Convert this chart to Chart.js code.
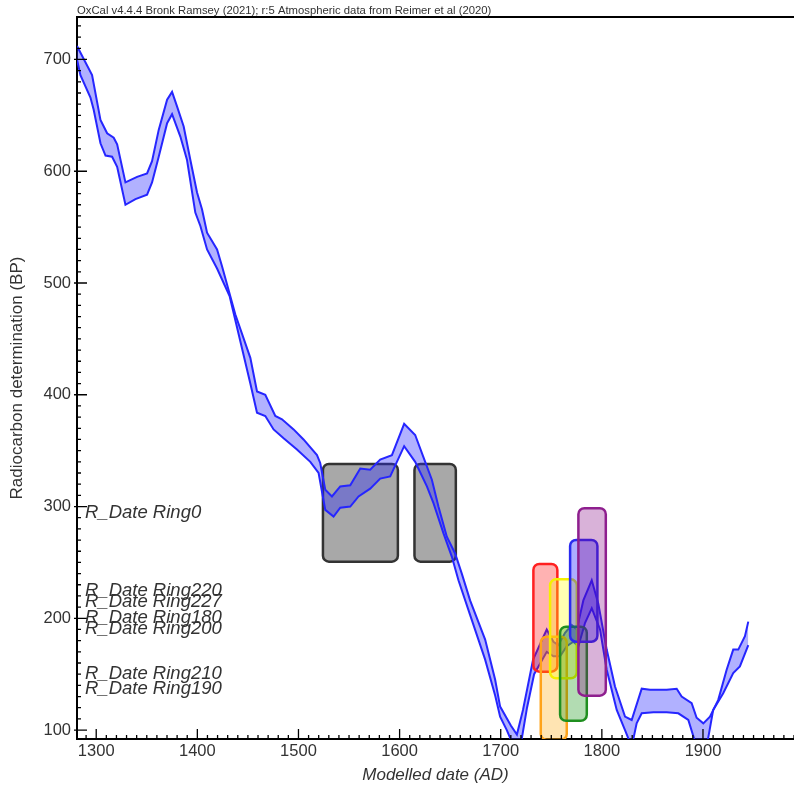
<!DOCTYPE html>
<html>
<head>
<meta charset="utf-8">
<script src="https://cdn.jsdelivr.net/npm/chart.js@4.4.0/dist/chart.umd.min.js"></script>
<style>
  html, body { margin: 0; padding: 0; background: #fff; overflow: hidden; }
  #wrap { width: 794px; height: 786px; position: relative; }
</style>
</head>
<body>
<div id="wrap"><canvas id="myChart"></canvas></div>
<script>
// Curva de calibración: borde superior e inferior (año AD, BP)
var upperYears = [1281, 1295.9, 1304.2, 1310.8, 1317.3, 1320.7, 1328.9, 1340.4, 1350.3, 1355.2, 1361.8, 1370.1, 1375, 1379.9, 1386.5, 1393.1, 1399.7, 1404.6, 1409.6, 1419.5, 1424.4, 1437.5, 1452.4, 1459, 1467.2, 1477.1, 1483.7, 1495.2, 1505, 1518.3, 1521.5, 1526.5, 1533.1, 1541.3, 1551.2, 1561.1, 1570.9, 1580.8, 1592.4, 1604.5, 1615.4, 1625.3, 1631.9, 1638.4, 1646.7, 1654.9, 1661.5, 1669.7, 1684.6, 1694.5, 1699.4, 1710, 1716, 1722, 1732, 1745.5, 1752.1, 1757, 1763.6, 1770.2, 1775.2, 1781.7, 1790, 1796.5, 1804.8, 1813, 1822.9, 1829.5, 1839.4, 1847.6, 1855.8, 1864.1, 1874, 1878.9, 1888.8, 1893.7, 1900.3, 1906.9, 1915.1, 1923.4, 1929.9, 1934.9, 1941.5, 1944.8];
var upperBP = [712, 686, 646, 634, 630, 624, 590, 595, 598, 609, 637, 664, 671, 658, 640, 610, 581, 566, 545, 530, 515, 472, 433, 403, 400, 381, 378, 369, 360, 346, 339, 315, 309, 318, 319, 334, 333, 342, 346, 374, 364, 340, 324, 300, 273, 258, 240, 216, 181, 145, 121, 104, 96, 118, 163, 190, 179, 176, 187, 194, 190, 216, 234, 213, 172, 139, 112, 109, 137, 136, 136, 136, 137, 130, 124, 111, 106, 112, 127, 154, 172, 172, 184, 197];
var lowerYears = [1281, 1284.4, 1294.3, 1297.5, 1304.2, 1309.2, 1315.7, 1320.7, 1328.9, 1338.8, 1350.3, 1355.2, 1361.8, 1370.1, 1375, 1383.2, 1389.8, 1398, 1403, 1409.6, 1419.5, 1432, 1452.4, 1459, 1467.2, 1475.4, 1485.3, 1498.5, 1511.7, 1519.9, 1526.5, 1534.7, 1541.3, 1551.2, 1559.4, 1570.9, 1580.8, 1590.7, 1604.5, 1615.4, 1627, 1633.5, 1643.4, 1651.7, 1658.2, 1669.7, 1684.6, 1694.5, 1699.4, 1706, 1713, 1720, 1726, 1733, 1745.5, 1752.1, 1758.7, 1765.3, 1771.8, 1776.8, 1783.4, 1790, 1798.2, 1804.8, 1814.7, 1822.9, 1829.5, 1834.4, 1839.4, 1850.9, 1864.1, 1875.6, 1885.5, 1893.7, 1903.6, 1910.1, 1920, 1929.9, 1936.5, 1944.8];
var lowerBP = [700, 686, 666, 655, 625, 614, 613, 604, 570, 575, 579, 590, 613, 643, 651, 631, 610, 563, 551, 530, 513, 488, 410, 384, 381, 369, 361, 351, 340, 330, 297, 291, 299, 300, 309, 316, 325, 327, 354, 340, 318, 303, 276, 255, 234, 203, 163, 131, 112, 100, 85, 88, 120, 150, 170, 166, 166, 175, 179, 175, 196, 209, 190, 154, 118, 100, 85, 106, 115, 116, 116, 115, 109, 85, 85, 118, 133, 151, 157, 176];

// Rangos R_Date (desde, hasta en AD; bajo, alto en BP)
var rangeNames = ['Ring0', 'Ring0', 'Ring180', 'Ring190', 'Ring200', 'Ring210', 'Ring220', 'Ring227'];
var rangeFrom = [1524.2, 1614.7, 1732.3, 1739.6, 1748.8, 1758.7, 1768.6, 1776.8];
var rangeTo = [1598.3, 1655.6, 1756.0, 1765.3, 1775.2, 1785.1, 1795.6, 1803.9];
var rangeLow = [250.7, 250.7, 152.2, 91.1, 146.3, 108.3, 179.0, 130.7];
var rangeHigh = [338.1, 338.1, 248.6, 183.5, 234.9, 192.5, 270.1, 298.5];

// Marcas de los ejes
var xTickValues = [1300, 1400, 1500, 1600, 1700, 1800, 1900];
var yTickValues = [100, 200, 300, 400, 500, 600, 700];

var titleText = 'OxCal v4.4.4 Bronk Ramsey (2021); r:5 Atmospheric data from Reimer et al (2020)';

var boxStyles = {
    Ring0: { fill: 'rgba(110,110,110,0.6)', stroke: '#333333', front: false },
    Ring180: { fill: 'rgba(255,0,0,0.3)', stroke: '#ff2020', front: true },
    Ring190: { fill: 'rgba(255,165,0,0.3)', stroke: '#ffa31a', front: true },
    Ring200: { fill: 'rgba(255,255,0,0.3)', stroke: '#f5f000', front: true },
    Ring210: { fill: 'rgba(0,140,0,0.3)', stroke: '#1f8f1f', front: true },
    Ring220: { fill: 'rgba(20,20,255,0.35)', stroke: '#2a2af0', front: true },
    Ring227: { fill: 'rgba(128,0,128,0.3)', stroke: '#8e1f8e', front: true }
};

function roundBox(ctx, x, y, w, h, r) {
    ctx.beginPath();
    ctx.moveTo(x + r, y);
    ctx.arcTo(x + w, y, x + w, y + h, r);
    ctx.arcTo(x + w, y + h, x, y + h, r);
    ctx.arcTo(x, y + h, x, y, r);
    ctx.arcTo(x, y, x + w, y, r);
    ctx.closePath();
}

function drawBoxes(chart, front) {
    var ctx = chart.ctx, xs = chart.scales.x, ys = chart.scales.y, a = chart.chartArea;
    ctx.save();
    ctx.beginPath();
    ctx.rect(a.left, a.top, a.right - a.left, a.bottom - a.top);
    ctx.clip();
    for (var i = 0; i < rangeNames.length; i++) {
        var st = boxStyles[rangeNames[i]];
        if (st.front !== front) continue;
        var x0 = xs.getPixelForValue(rangeFrom[i]), x1 = xs.getPixelForValue(rangeTo[i]);
        var y0 = ys.getPixelForValue(rangeHigh[i]), y1 = ys.getPixelForValue(rangeLow[i]);
        roundBox(ctx, x0, y0, x1 - x0, y1 - y0, 6);
        ctx.fillStyle = st.fill;
        ctx.fill();
        ctx.lineWidth = 2.5;
        ctx.strokeStyle = st.stroke;
        ctx.stroke();
    }
    ctx.restore();
}

var oxcalPlugin = {
    id: 'oxcal',
    beforeDatasetsDraw: function (chart) { drawBoxes(chart, false); },
    afterDatasetsDraw: function (chart) { drawBoxes(chart, true); },
    afterDraw: function (chart) {
        var ctx = chart.ctx, xs = chart.scales.x, ys = chart.scales.y, a = chart.chartArea;
        ctx.save();
        // marco superior
        ctx.strokeStyle = '#000';
        ctx.lineWidth = 2;
        ctx.beginPath();
        ctx.moveTo(a.left - 1, a.top);
        ctx.lineTo(a.right, a.top);
        ctx.stroke();
        // marcas internas de los ejes
        ctx.lineWidth = 1.3;
        ctx.beginPath();
        for (var v = 1290; v <= 1990; v += 10) {
            var px = xs.getPixelForValue(v);
            var len = v % 100 === 0 ? 10 : 4;
            ctx.moveTo(px, a.bottom);
            ctx.lineTo(px, a.bottom - len);
        }
        for (var b = 100; b <= 730; b += 10) {
            var py = ys.getPixelForValue(b);
            var l2 = b % 100 === 0 ? 10 : 4;
            ctx.moveTo(b % 100 === 0 ? a.left - 3 : a.left, py);
            ctx.lineTo(a.left + l2, py);
        }
        ctx.stroke();
        // título de OxCal
        ctx.fillStyle = '#333';
        ctx.font = '11.3px "Liberation Sans", Arial, sans-serif';
        ctx.textBaseline = 'alphabetic';
        ctx.textAlign = 'left';
        ctx.fillText(titleText, a.left, a.top - 3);
        // etiquetas R_Date
        ctx.font = 'italic 18.5px "Liberation Sans", Arial, sans-serif';
        ctx.textBaseline = 'middle';
        var done = {};
        for (var i = 0; i < rangeNames.length; i++) {
            if (done[rangeNames[i]]) continue;
            done[rangeNames[i]] = true;
            var mid = (rangeLow[i] + rangeHigh[i]) / 2;
            ctx.fillText('R_Date ' + rangeNames[i], a.left + 8, ys.getPixelForValue(mid));
        }
        ctx.restore();
    }
};

var upperData = upperYears.map(function (yr, i) { return { x: yr, y: upperBP[i] }; });
var lowerData = lowerYears.map(function (yr, i) { return { x: yr, y: lowerBP[i] }; });

var tickFont = { family: '"Liberation Sans", Arial, sans-serif', size: 16.5 };

var ctx = document.getElementById('myChart').getContext('2d');
var chart = new Chart(ctx, {
    type: 'line',
    data: {
        datasets: [{
            label: 'upper',
            data: upperData,
            borderColor: '#2626ff',
            backgroundColor: 'rgba(40,40,255,0.36)',
            borderWidth: 2,
            pointRadius: 0,
            tension: 0,
            fill: '+1'
        }, {
            label: 'lower',
            data: lowerData,
            borderColor: '#2626ff',
            borderWidth: 2,
            pointRadius: 0,
            tension: 0,
            fill: false
        }]
    },
    options: {
        responsive: true,
        maintainAspectRatio: false,
        animation: false,
        layout: { padding: { top: 17, left: 0, right: 0, bottom: 0 } },
        plugins: {
            legend: { display: false },
            tooltip: { enabled: false }
        },
        scales: {
            x: {
                type: 'linear',
                min: 1281,
                max: 1990,
                afterBuildTicks: function (s) { s.ticks = xTickValues.map(function (v) { return { value: v }; }); },
                afterFit: function (s) { s.height = 47; },
                border: { display: true, color: '#000', width: 2 },
                grid: { drawOnChartArea: false, drawTicks: false },
                ticks: {
                    autoSkip: false,
                    padding: 3,
                    color: '#333',
                    font: tickFont,
                    callback: function (v) { return String(v); },
                    maxRotation: 0
                },
                title: {
                    display: true,
                    text: 'Modelled date (AD)',
                    color: '#333',
                    font: { family: '"Liberation Sans", Arial, sans-serif', size: 17, style: 'italic' },
                    padding: { top: 0, bottom: 1 }
                }
            },
            y: {
                type: 'linear',
                min: 92,
                max: 738,
                afterBuildTicks: function (s) { s.ticks = yTickValues.map(function (v) { return { value: v }; }); },
                afterFit: function (s) { s.width = 77; },
                border: { display: true, color: '#000', width: 2 },
                grid: { drawOnChartArea: false, drawTicks: false },
                ticks: {
                    autoSkip: false,
                    padding: 6,
                    color: '#333',
                    font: tickFont,
                    callback: function (v) { return String(v); }
                },
                title: {
                    display: true,
                    text: 'Radiocarbon determination (BP)',
                    color: '#333',
                    font: { family: '"Liberation Sans", Arial, sans-serif', size: 17 },
                    padding: { top: 7, bottom: 0 }
                }
            }
        }
    },
    plugins: [oxcalPlugin]
});
</script>
</body>
</html>
